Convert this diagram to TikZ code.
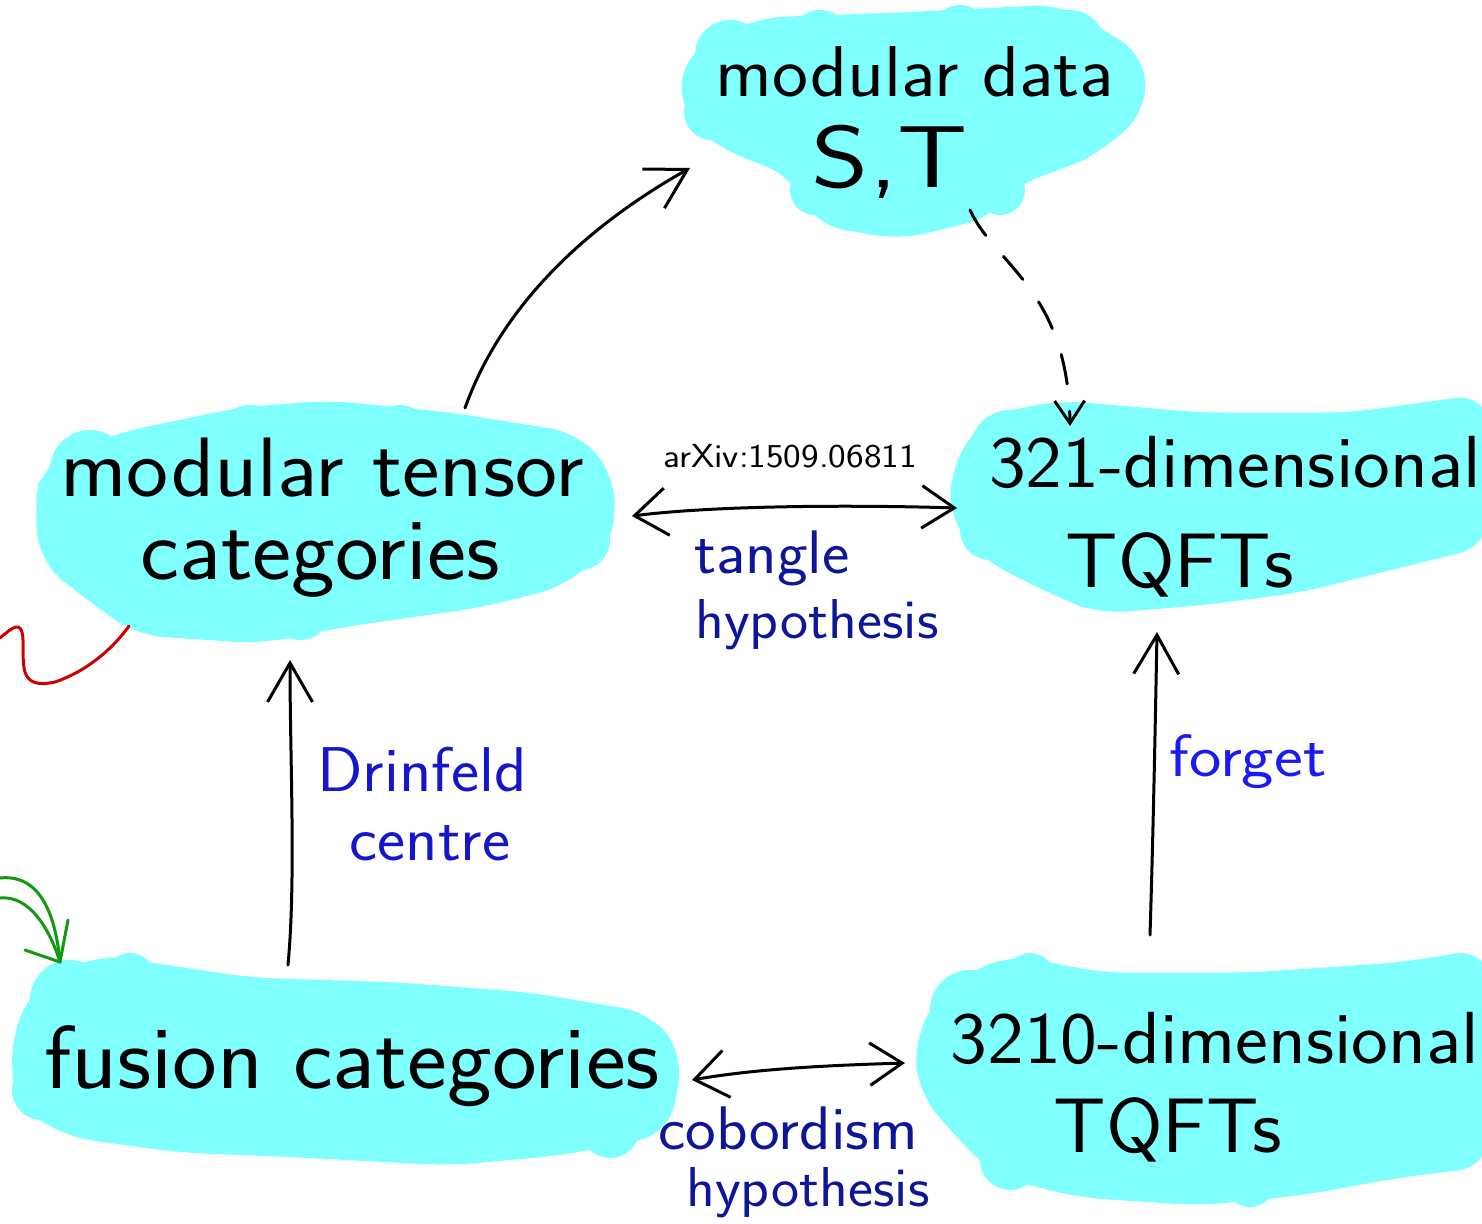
\documentclass[tikz,border=0pt]{standalone}
\usepackage{graphicx}
\usetikzlibrary{arrows.meta}
\definecolor{blobcyan}{HTML}{80FFFF}
\definecolor{inknavy}{HTML}{0D1699}
\definecolor{inkmid}{HTML}{1515CC}
\definecolor{inkblue}{HTML}{1A1AF5}
\definecolor{inkred}{HTML}{CC0000}
\definecolor{inkgreen}{HTML}{119911}
% slightly widened lettering
\newcommand{\hw}[2][1.06]{\scalebox{#1}[1]{#2}}
\tikzset{
  blob/.style={fill=blobcyan, draw=blobcyan, line width=0.3cm, line join=round, rounded corners=0.5cm},
  bump/.style={fill=blobcyan},
  bigtext/.style={font=\sffamily\fontsize{#1}{#1}\selectfont, inner sep=0pt},
  lbl/.style={font=\sffamily\fontsize{#1}{#1}\selectfont, inner sep=0pt},
  pen/.style={line width=0.06cm, line cap=round, line join=round},
  bighead/.style={-{Straight Barb[length=0.78cm,width=0.9cm,line width=0.06cm]}},
  bothheads/.style={{Straight Barb[length=0.65cm,width=0.95cm,line width=0.06cm]}-{Straight Barb[length=0.65cm,width=0.85cm,line width=0.06cm]}},
  smallhead/.style={-{Straight Barb[length=0.45cm,width=0.6cm,line width=0.06cm]}},
}
\begin{document}
\begin{tikzpicture}[x=0.02cm,y=-0.02cm]
\useasboundingbox (0,0) rectangle (1482,1224);
\clip (0,0) rectangle (1482,1224);

% cloud behind "modular data / S,T"
\fill[blob] (690,60) -- (760,25) -- (900,20) -- (1060,12) -- (1138,60) -- (1138,110) -- (1090,150) -- (1010,180) -- (990,210) -- (900,232) -- (820,218) -- (795,170) -- (720,140) -- (688,110) -- cycle;
\foreach \cx/\cy/\r in {730/55/35, 820/40/30, 960/35/30, 1070/45/35, 1115/90/28, 1075/140/22, 1000/190/25, 870/205/28, 815/190/25, 712/112/28}
  \fill[bump] (\cx,\cy) circle[radius=\r];

% cloud behind "modular tensor categories"
\fill[blob] (48,470) -- (120,440) -- (240,415) -- (330,408) -- (450,420) -- (575,440) -- (608,480) -- (606,540) -- (560,580) -- (480,600) -- (340,620) -- (260,636) -- (140,628) -- (100,600) -- (48,560) -- (42,510) -- cycle;
\foreach \cx/\cy/\r in {90/470/40, 250/440/35, 400/435/30, 560/470/35, 580/540/30, 160/600/35, 300/610/30, 62/530/25}
  \fill[bump] (\cx,\cy) circle[radius=\r];

% cloud behind "321-dimensional TQFTs"
\fill[blob] (958,470) -- (990,422) -- (1060,408) -- (1200,420) -- (1350,420) -- (1482,402) -- (1482,540) -- (1400,560) -- (1300,585) -- (1200,598) -- (1100,606) -- (1060,590) -- (990,555) -- (958,520) -- cycle;
\foreach \cx/\cy/\r in {1010/450/40, 1080/432/30, 1450/440/35, 1090/578/30, 990/530/30}
  \fill[bump] (\cx,\cy) circle[radius=\r];

% cloud behind "fusion categories"
\fill[blob] (18,1040) -- (40,992) -- (100,962) -- (150,970) -- (250,985) -- (400,990) -- (530,1000) -- (648,1020) -- (676,1060) -- (662,1128) -- (560,1148) -- (450,1158) -- (300,1150) -- (180,1145) -- (70,1130) -- (22,1100) -- cycle;
\foreach \cx/\cy/\r in {70/1000/40, 130/978/25, 640/1060/35, 610/1128/30, 42/1090/30}
  \fill[bump] (\cx,\cy) circle[radius=\r];

% cloud behind "3210-dimensional TQFTs"
\fill[blob] (922,1040) -- (950,992) -- (1010,962) -- (1100,980) -- (1250,980) -- (1400,970) -- (1482,957) -- (1482,1160) -- (1400,1170) -- (1300,1188) -- (1200,1198) -- (1080,1190) -- (1000,1170) -- (960,1130) -- (926,1090) -- cycle;
\foreach \cx/\cy/\r in {970/1010/40, 1030/978/25, 1440/1000/35, 1010/1160/30, 1250/1182/25}
  \fill[bump] (\cx,\cy) circle[radius=\r];

% main texts
\node[bigtext=41pt] (md) at (915,72) {\hw{modular data}};
\node[bigtext=50pt] (st) at (890,162) {\hw[1.25]{S,T}};
\node[bigtext=48pt] (mtc1) at (322,468) {\hw{modular tensor}};
\node[bigtext=50pt] (mtc2) at (320,560) {\hw{categories}};
\node[bigtext=42pt] (tq1) at (1235,462) {\hw{321-dimensional}};
\node[bigtext=44pt] (tq2) at (1180,565) {\hw{TQFTs}};
\node[bigtext=51pt] (fus) at (352,1066) {\hw{fusion categories}};
\node[bigtext=42pt] (tqb1) at (1215,1038) {\hw{3210-dimensional}};
\node[bigtext=44pt] (tqb2) at (1168,1130) {\hw{TQFTs}};

% labels on connectors
\node[lbl=19pt] (arx) at (790,456) {\hw[1.12]{arXiv:1509.06811}};
\node[lbl=35pt, text=inknavy] (tang) at (772,558) {\hw{tangle}};
\node[lbl=32pt, text=inknavy] (hyp1) at (817,625) {\hw{hypothesis}};
\node[lbl=36pt, text=inkmid] (drin) at (422,770) {\hw{Drinfeld}};
\node[lbl=36pt, text=inkmid] (cent) at (430,843) {\hw{centre}};
\node[lbl=34pt, text=inkblue] (forg) at (1248,762) {\hw[1.15]{forget}};
\node[lbl=35pt, text=inknavy] (cob) at (788,1128) {\hw{cobordism}};
\node[lbl=32pt, text=inknavy] (hyp2) at (808,1193) {\hw{hypothesis}};

% connector end points
\coordinate (mtcTop) at (465,408);
\coordinate (mdIn) at (690,168);
\coordinate (mdOut) at (970,210);
\coordinate (tqIn) at (1070,426);
\coordinate (mtcRight) at (632,516);
\coordinate (tqLeft) at (957,508);
\coordinate (fusTop) at (288,965);
\coordinate (mtcBot) at (290,660);
\coordinate (tqbTop) at (1150,935);
\coordinate (tqBot) at (1157,632);
\coordinate (fusRight) at (692,1080);
\coordinate (tqbLeft) at (905,1063);

% connectors
\draw[pen, bighead] (mtcTop) .. controls (500,310) and (580,230) .. (mdIn);
\draw[pen, smallhead, dash pattern=on 0.6cm off 0.55cm] (mdOut) .. controls (995,265) and (1068,290) .. (tqIn);
\draw[pen, bothheads] (mtcRight) .. controls (720,505) and (860,505) .. (tqLeft);
\draw[pen, bighead] (fusTop) .. controls (296,880) and (290,760) .. (mtcBot);
\draw[pen, bighead] (tqbTop) .. controls (1153,840) and (1155,740) .. (tqBot);
\draw[pen, bothheads] (fusRight) .. controls (760,1068) and (840,1065) .. (tqbLeft);

% stray strokes at the left edge
\coordinate (redStart) at (0,638);
\coordinate (redEnd) at (129,626);
\draw[pen, inkred] (redStart) .. controls (12,628) and (22,618) .. (23,640)
  .. controls (24,665) and (18,690) .. (55,682)
  .. controls (85,672) and (112,650) .. (redEnd) -- (126,630);
\coordinate (greenA) at (0,878);
\coordinate (greenB) at (0,898);
\coordinate (greenTip) at (60,962);
\draw[pen, inkgreen] (greenA) .. controls (38,874) and (55,910) .. (greenTip);
\draw[pen, inkgreen] (greenB) .. controls (30,895) and (50,930) .. (greenTip);
\draw[pen, inkgreen] (68,920) -- (greenTip) -- (25,950);
\end{tikzpicture}
\end{document}
